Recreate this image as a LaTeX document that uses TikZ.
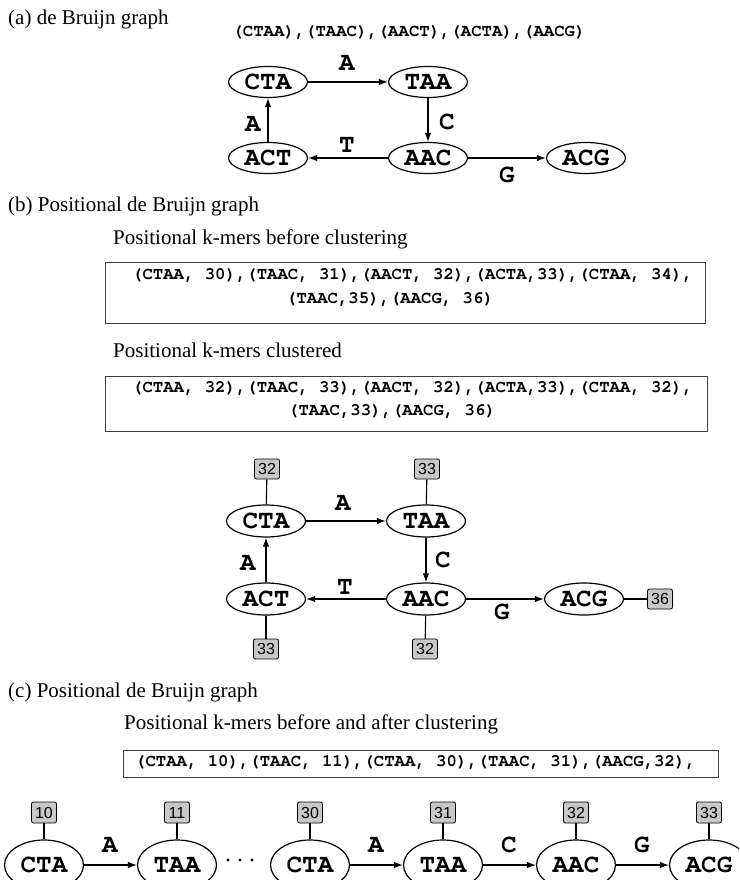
\documentclass[tikz,border=0pt]{standalone}
\usepackage{fontspec}
\usetikzlibrary{shapes.geometric,arrows.meta}
\newfontfamily\tnrFam{Liberation Serif}
\newfontfamily\courFam{TeX Gyre Cursor}
\newfontfamily\arialFam{Liberation Sans}
\newcommand\fLab{\tnrFam\fontsize{21}{25}\selectfont}
\newcommand\fSeq{\courFam\bfseries\fontsize{17.3}{20}\selectfont}
\newcommand\fNode{\courFam\bfseries\fontsize{26}{30}\selectfont}
\newcommand\fPos{\arialFam\fontsize{16}{19}\selectfont}
\definecolor{boxgray}{HTML}{C8C8C8}
\definecolor{frame}{HTML}{404040}
\begin{document}
\begin{tikzpicture}[x=1pt,y=-1pt,
  lab/.style={font=\fLab, anchor=west, inner sep=0},
  seq/.style={font=\fSeq, anchor=west, inner sep=0},
  kmer/.style={ellipse, draw, line width=1.2pt, minimum width=79pt, minimum height=31pt, inner sep=0, font=\fNode},
  kmerc/.style={kmer, minimum height=50pt},
  posbox/.style={draw, line width=0.8pt, fill=boxgray, rounded corners=2pt, minimum width=25pt, minimum height=20pt, inner sep=0, font=\fPos},
  arr/.style={-{Latex[length=9pt,width=6.5pt]}, line width=1.2pt},
  tie/.style={line width=1.1pt},
  elab/.style={font=\fNode, inner sep=0},
  frm/.style={draw=frame, line width=1pt}]
\clip (0,0) rectangle (739,880);
\fill[white] (0,0) rectangle (739,880);

% ---------- (a)
\node[lab] (la) at (8,19) {(a) de Bruijn graph};
\node[font=\fSeq, inner sep=0] (sa) at (409,33) {(CTAA),(TAAC),(AACT),(ACTA),(AACG)};
\node[kmer] (aCTA) at (268,82) {CTA};
\node[kmer] (aTAA) at (428,82) {TAA};
\node[kmer] (aACT) at (268,158) {ACT};
\node[kmer] (aAAC) at (428,158) {AAC};
\node[kmer] (aACG) at (586,158) {ACG};
\draw[arr] (aCTA) -- (aTAA);
\draw[arr] (aTAA) -- (aAAC);
\draw[arr] (aAAC) -- (aACT);
\draw[arr] (aACT) -- (aCTA);
\draw[arr] (aAAC) -- (aACG);
\node[elab] (aL1) at (347,63) {A};
\node[elab] (aL2) at (447,122) {C};
\node[elab] (aL3) at (253,124) {A};
\node[elab] (aL4) at (347,145) {T};
\node[elab] (aL5) at (507,175) {G};

% ---------- (b)
\node[lab] (lb) at (8,206) {(b) Positional de Bruijn graph};
\node[lab] (lb1) at (113,239) {Positional k-mers before clustering};
\node[frm, minimum width=600pt, minimum height=61pt, inner sep=0] (box1) at (405,292.5) {};
\node[seq] (b1a) at (132,276) {(CTAA, 30),(TAAC, 31),(AACT, 32),(ACTA,33),(CTAA, 34),};
\node[seq] (b1b) at (286,300) {(TAAC,35),(AACG, 36)};
\node[lab] (lb2) at (113,350) {Positional k-mers clustered};
\node[frm, minimum width=602pt, minimum height=55pt, inner sep=0] (box2) at (406,403.5) {};
\node[seq] (b2a) at (132,389) {(CTAA, 32),(TAAC, 33),(AACT, 32),(ACTA,33),(CTAA, 32),};
\node[seq] (b2b) at (288,412) {(TAAC,33),(AACG, 36)};

\node[kmer, minimum height=32pt] (bCTA) at (266,521) {CTA};
\node[kmer, minimum height=32pt] (bTAA) at (426,521) {TAA};
\node[kmer, minimum height=32pt] (bACT) at (266,599) {ACT};
\node[kmer, minimum height=32pt] (bAAC) at (426,599) {AAC};
\node[kmer, minimum height=32pt] (bACG) at (584,599) {ACG};
\draw[arr] (bCTA) -- (bTAA);
\draw[arr] (bTAA) -- (bAAC);
\draw[arr] (bAAC) -- (bACT);
\draw[arr] (bACT) -- (bCTA);
\draw[arr] (bAAC) -- (bACG);
\node[elab] (bL1) at (343,503) {A};
\node[elab] (bL2) at (443,560) {C};
\node[elab] (bL3) at (248,563) {A};
\node[elab] (bL4) at (345,587) {T};
\node[elab] (bL5) at (502,612) {G};
\node[posbox] (p1) at (267,469) {32};
\node[posbox] (p2) at (427,469) {33};
\node[posbox] (p3) at (266,649) {33};
\node[posbox] (p4) at (425,649) {32};
\node[posbox] (p5) at (660,599) {36};
\draw[tie] (p1) -- (bCTA);
\draw[tie] (p2) -- (bTAA);
\draw[tie] (p3) -- (bACT);
\draw[tie] (p4) -- (bAAC);
\draw[tie] (p5) -- (bACG);

% ---------- (c)
\node[lab] (lc) at (8,692) {(c) Positional de Bruijn graph};
\node[lab] (lc1) at (124,724) {Positional k-mers before and after clustering};
\node[frm, minimum width=595pt, minimum height=27pt, inner sep=0] (box3) at (420.5,763.5) {};
\node[seq] (c1) at (135,763) {(CTAA, 10),(TAAC, 11),(CTAA, 30),(TAAC, 31),(AACG,32),};

\node[kmerc] (c1CTA) at (44,865) {CTA};
\node[kmerc] (c1TAA) at (177,865) {TAA};
\node[kmerc] (c2CTA) at (310,865) {CTA};
\node[kmerc] (c2TAA) at (443,865) {TAA};
\node[kmerc] (cAAC) at (576,865) {AAC};
\node[kmerc] (cACG) at (709,865) {ACG};
\draw[arr] (c1CTA) -- (c1TAA);
\draw[arr] (c2CTA) -- (c2TAA);
\draw[arr] (c2TAA) -- (cAAC);
\draw[arr] (cAAC) -- (cACG);
\node[elab] (cL1) at (110,845) {A};
\node[elab] (cL2) at (376,845) {A};
\node[elab] (cL3) at (509,845) {C};
\node[elab] (cL4) at (642,845) {G};
\fill (228,860) circle (1.6);
\fill (240,860) circle (1.6);
\fill (252,860) circle (1.6);
\node[posbox, minimum height=21pt] (q1) at (44,812.5) {10};
\node[posbox, minimum height=21pt] (q2) at (177,812.5) {11};
\node[posbox, minimum height=21pt] (q3) at (310,812.5) {30};
\node[posbox, minimum height=21pt] (q4) at (443,812.5) {31};
\node[posbox, minimum height=21pt] (q5) at (576,812.5) {32};
\node[posbox, minimum height=21pt] (q6) at (709,812.5) {33};
\draw[tie] (q1) -- (c1CTA);
\draw[tie] (q2) -- (c1TAA);
\draw[tie] (q3) -- (c2CTA);
\draw[tie] (q4) -- (c2TAA);
\draw[tie] (q5) -- (cAAC);
\draw[tie] (q6) -- (cACG);
\end{tikzpicture}
\end{document}
